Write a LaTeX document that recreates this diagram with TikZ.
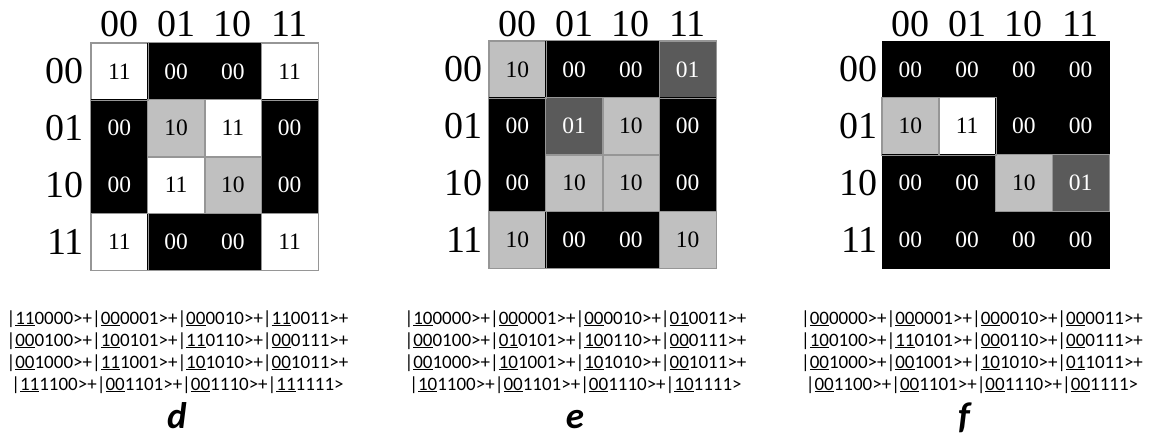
\documentclass[tikz,border=0pt]{standalone}
\usepackage{fontspec}
\setmainfont{Liberation Serif}
\newfontfamily\calib{Carlito}
\definecolor{lgray}{RGB}{192,192,192}
\definecolor{dgray}{RGB}{90,90,90}
\definecolor{gline}{RGB}{150,150,150}
\newcommand\ulx[1]{\setbox0\hbox{#1}\rlap{\rule[-1.8pt]{\wd0}{0.9pt}}\box0\relax}
\begin{document}
\begin{tikzpicture}[x=1pt,y=-1pt,
  cell/.style={rectangle, minimum width=56.75pt, minimum height=56.75pt, inner sep=0pt,
    font=\fontsize{23.5}{23.5}\selectfont, draw=gline, line width=0.7pt},
  bk/.style={cell, fill=black, draw=black, text=white},
  wh/.style={cell, fill=white, text=black},
  lg/.style={cell, fill=lgray, text=black},
  dg/.style={cell, fill=dgray, text=white},
  border/.style={draw=gline, line width=0.7pt},
  hdr/.style={font=\fontsize{38}{38}\selectfont, inner sep=0pt},
  ket/.style={font=\calib\fontsize{19}{22}\selectfont, inner sep=0pt, anchor=base},
  lab/.style={font=\calib\bfseries\itshape\fontsize{37}{37}\selectfont, inner sep=0pt, anchor=base}]
\useasboundingbox (0,0) rectangle (1157,439);

% ---------- grid d ----------
\foreach \sty/\txt [count=\i from 0] in {wh/11,bk/00,bk/00,wh/11, bk/00,lg/10,wh/11,bk/00, bk/00,wh/11,lg/10,bk/00, wh/11,bk/00,bk/00,wh/11}{
  \pgfmathtruncatemacro\rr{\i/4}
  \pgfmathtruncatemacro\cc{mod(\i,4)}
  \node[\sty] (d\rr\cc) at ({91+56.75*(\cc+0.5)},{43+56.75*(\rr+0.5)}) {\txt};
}
\foreach \n in {00,03,11,12,21,22,30,33}
  \draw[border] (d\n.north west) rectangle (d\n.south east);
\draw[border] (d00.north west) rectangle (d33.south east);
\foreach \t [count=\k from 0] in {00,01,10,11}{
  \node[hdr, anchor=base] (dh\k) at ({91+56.75*(\k+0.5)},36.5) {\t};
  \node[hdr, anchor=east] (dr\k) at (84,{43+56.75*(\k+0.5)}) {\t};
}

% ---------- grid e ----------
\foreach \sty/\txt [count=\i from 0] in {lg/10,bk/00,bk/00,dg/01, bk/00,dg/01,lg/10,bk/00, bk/00,lg/10,lg/10,bk/00, lg/10,bk/00,bk/00,lg/10}{
  \pgfmathtruncatemacro\rr{\i/4}
  \pgfmathtruncatemacro\cc{mod(\i,4)}
  \node[\sty] (e\rr\cc) at ({489+56.75*(\cc+0.5)},{41+56.75*(\rr+0.5)}) {\txt};
}
\foreach \n in {00,03,11,12,21,22,30,33}
  \draw[border] (e\n.north west) rectangle (e\n.south east);
\draw[border] (e00.north west) rectangle (e33.south east);
\foreach \t [count=\k from 0] in {00,01,10,11}{
  \node[hdr, anchor=base] (eh\k) at ({489+56.75*(\k+0.5)},36.5) {\t};
  \node[hdr, anchor=east] (er\k) at (483,{41+56.75*(\k+0.5)}) {\t};
}

% ---------- grid f ----------
\foreach \sty/\txt [count=\i from 0] in {bk/00,bk/00,bk/00,bk/00, lg/10,wh/11,bk/00,bk/00, bk/00,bk/00,lg/10,dg/01, bk/00,bk/00,bk/00,bk/00}{
  \pgfmathtruncatemacro\rr{\i/4}
  \pgfmathtruncatemacro\cc{mod(\i,4)}
  \node[\sty] (f\rr\cc) at ({882+56.75*(\cc+0.5)},{41+56.75*(\rr+0.5)}) {\txt};
}
\foreach \n in {10,11,22,23}
  \draw[border] (f\n.north west) rectangle (f\n.south east);
\foreach \t [count=\k from 0] in {00,01,10,11}{
  \node[hdr, anchor=base] (fh\k) at ({882+56.75*(\k+0.5)},36.5) {\t};
  \node[hdr, anchor=east] (fr\k) at (878,{41+56.75*(\k+0.5)}) {\t};
}

% ---------- kets ----------
\node[ket] (dk1) at (177.5,324.5) {|\ulx{11}0000>+|\ulx{00}0001>+|\ulx{00}0010>+|\ulx{11}0011>+};
\node[ket] (dk2) at (177.5,346.5) {|\ulx{00}0100>+|\ulx{10}0101>+|\ulx{11}0110>+|\ulx{00}0111>+};
\node[ket] (dk3) at (177.5,368.5) {|\ulx{00}1000>+|\ulx{11}1001>+|\ulx{10}1010>+|\ulx{00}1011>+};
\node[ket] (dk4) at (177.5,390.5) {|\ulx{11}1100>+|\ulx{00}1101>+|\ulx{00}1110>+|\ulx{11}1111>};

\node[ket] (ek1) at (575.5,324.5) {|\ulx{10}0000>+|\ulx{00}0001>+|\ulx{00}0010>+|\ulx{01}0011>+};
\node[ket] (ek2) at (575.5,346.5) {|\ulx{00}0100>+|\ulx{01}0101>+|\ulx{10}0110>+|\ulx{00}0111>+};
\node[ket] (ek3) at (575.5,368.5) {|\ulx{00}1000>+|\ulx{10}1001>+|\ulx{10}1010>+|\ulx{00}1011>+};
\node[ket] (ek4) at (575.5,390.5) {|\ulx{10}1100>+|\ulx{00}1101>+|\ulx{00}1110>+|\ulx{10}1111>};

\node[ket] (fk1) at (972,324.5) {|\ulx{00}0000>+|\ulx{00}0001>+|\ulx{00}0010>+|\ulx{00}0011>+};
\node[ket] (fk2) at (972,346.5) {|\ulx{10}0100>+|\ulx{11}0101>+|\ulx{00}0110>+|\ulx{00}0111>+};
\node[ket] (fk3) at (972,368.5) {|\ulx{00}1000>+|\ulx{00}1001>+|\ulx{10}1010>+|\ulx{01}1011>+};
\node[ket] (fk4) at (972,390.5) {|\ulx{00}1100>+|\ulx{00}1101>+|\ulx{00}1110>+|\ulx{00}1111>};

% ---------- labels ----------
\node[lab] (ld) at (177,428) {d};
\node[lab] (le) at (575,428) {e};
\node[lab] (lf) at (964,428) {f};
\end{tikzpicture}
\end{document}
